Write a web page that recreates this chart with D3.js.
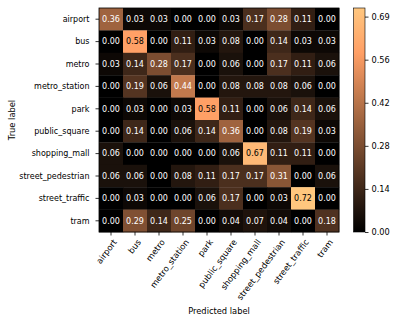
<!DOCTYPE html>
<html><head><meta charset="utf-8">
<script src="https://cdnjs.cloudflare.com/ajax/libs/d3/7.8.5/d3.min.js"></script>
<style>body{margin:0;background:#fff}svg{display:block}text{font-family:"DejaVu Sans",sans-serif}</style>
</head><body>
<script>
const labels = ["airport","bus","metro","metro_station","park","public_square","shopping_mall","street_pedestrian","street_traffic","tram"];
const row_airport = [0.36,0.03,0.03,0.00,0.00,0.03,0.17,0.28,0.11,0.00];
const row_bus = [0.00,0.58,0.00,0.11,0.03,0.08,0.00,0.14,0.03,0.03];
const row_metro = [0.03,0.14,0.28,0.17,0.00,0.06,0.00,0.17,0.11,0.06];
const row_metro_station = [0.00,0.19,0.06,0.44,0.00,0.08,0.08,0.08,0.06,0.00];
const row_park = [0.00,0.03,0.00,0.03,0.58,0.11,0.00,0.06,0.14,0.06];
const row_public_square = [0.00,0.14,0.00,0.06,0.14,0.36,0.00,0.08,0.19,0.03];
const row_shopping_mall = [0.06,0.00,0.00,0.00,0.00,0.06,0.67,0.11,0.11,0.00];
const row_street_pedestrian = [0.06,0.06,0.00,0.08,0.11,0.17,0.17,0.31,0.00,0.06];
const row_street_traffic = [0.00,0.03,0.00,0.00,0.06,0.17,0.00,0.03,0.72,0.00];
const row_tram = [0.00,0.29,0.14,0.25,0.00,0.04,0.07,0.04,0.00,0.18];
const matrix = [row_airport,row_bus,row_metro,row_metro_station,row_park,row_public_square,row_shopping_mall,row_street_pedestrian,row_street_traffic,row_tram];
const cbTicks = [0.0, 5/36, 10/36, 15/36, 20/36, 25/36];
const vmax = 0.7222;

const W = 395, H = 322;
const mLeft = 99, mTop = 8, cw = 24, plotH = 224;
const svg = d3.select("body").append("svg").attr("width", W).attr("height", H);

function copper(t){ t=Math.max(0,Math.min(1,t));
  return d3.rgb(Math.min(1,1.25*t)*255, 0.7812*t*255, 0.4975*t*255).formatHex(); }

const x = d3.scaleBand().domain(d3.range(10)).range([mLeft, mLeft+cw*10]);
const y = d3.scaleBand().domain(d3.range(10)).range([mTop, mTop+plotH]);
const color = v => copper(v/vmax);

const g = svg.append("g");
matrix.forEach((row,i)=>row.forEach((v,j)=>{
  g.append("rect").attr("x",x(j)).attr("y",y(i)).attr("width",x.bandwidth()+0.3).attr("height",y.bandwidth()+0.3).attr("fill",color(v));
  g.append("text").attr("x",x(j)+x.bandwidth()/2).attr("y",y(i)+y.bandwidth()/2).attr("dy","0.36em")
   .attr("text-anchor","middle").attr("font-size","8px").attr("fill", v>0.5?"#000":"#fff").text(v.toFixed(2));
}));
g.append("rect").attr("x",mLeft).attr("y",mTop).attr("width",cw*10).attr("height",plotH).attr("fill","none").attr("stroke","#000").attr("stroke-width",0.8);

const yl = svg.append("g");
labels.forEach((l,i)=>{
  const cy = y(i)+y.bandwidth()/2;
  yl.append("line").attr("x1",mLeft-3.5).attr("x2",mLeft).attr("y1",cy).attr("y2",cy).attr("stroke","#000").attr("stroke-width",0.8);
  yl.append("text").attr("x",mLeft-9.5).attr("y",cy).attr("dy","0.35em").attr("text-anchor","end").attr("font-size","8px").attr("fill","#000").text(l);
});
const xl = svg.append("g");
const yb = mTop+plotH;
labels.forEach((l,j)=>{
  const cx = x(j)+x.bandwidth()/2;
  xl.append("line").attr("x1",cx).attr("x2",cx).attr("y1",yb).attr("y2",yb+3.5).attr("stroke","#000").attr("stroke-width",0.8);
  xl.append("text").attr("transform",`translate(${cx+1.5},${yb+6.5}) rotate(-53)`).attr("dy","0.72em").attr("text-anchor","end").attr("font-size","8.4px").attr("fill","#000").text(l);
});
svg.append("text").attr("x",mLeft+cw*5).attr("y",314).attr("text-anchor","middle").attr("font-size","8.3px").text("Predicted label");
svg.append("text").attr("transform",`translate(15,${mTop+plotH/2}) rotate(-90)`).attr("text-anchor","middle").attr("font-size","8.3px").text("True label");

const cbx = 353.5, cbw = 11.5;
const defs = svg.append("defs");
const grad = defs.append("linearGradient").attr("id","cg").attr("x1",0).attr("y1",1).attr("x2",0).attr("y2",0);
d3.range(0,1.0001,0.05).forEach(t=>grad.append("stop").attr("offset",t).attr("stop-color",copper(t)));
svg.append("rect").attr("x",cbx).attr("y",mTop).attr("width",cbw).attr("height",plotH).attr("fill","url(#cg)").attr("stroke","#000").attr("stroke-width",0.6);
const cyS = d3.scaleLinear().domain([0,vmax]).range([mTop+plotH, mTop]);
const cax = d3.axisRight(cyS).tickValues(cbTicks).tickSize(3.5).tickPadding(3).tickFormat(d3.format(".2f"));
const cgr = svg.append("g").attr("transform",`translate(${cbx+cbw},0)`).call(cax);
cgr.select(".domain").remove();
cgr.selectAll("text").attr("font-size","8.2px").attr("font-family","DejaVu Sans").attr("fill","#000");
cgr.selectAll("line").attr("stroke","#000").attr("stroke-width",0.8);
</script>
</body></html>
